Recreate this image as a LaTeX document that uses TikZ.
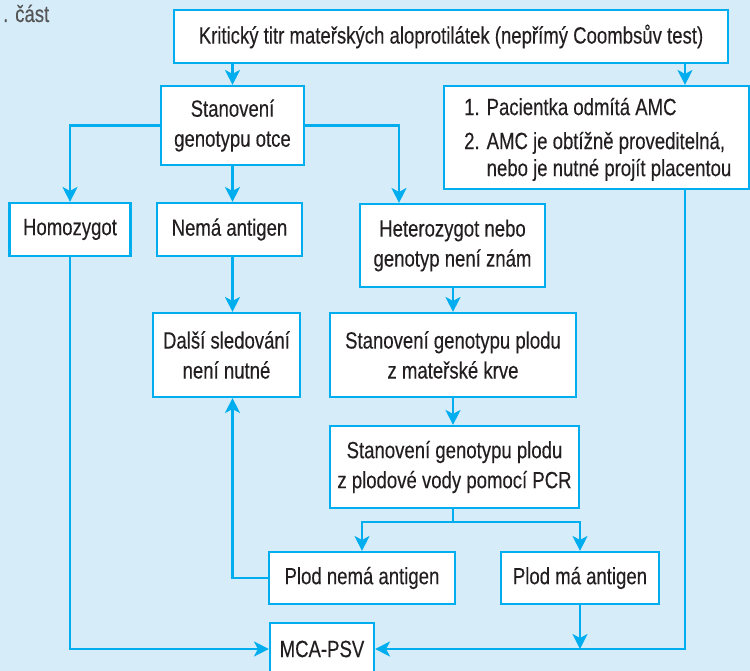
\documentclass[tikz,border=0pt]{standalone}
\usepackage{fontspec}
\setmainfont{Liberation Sans}[FakeStretch=0.79,FakeBold=0.25]
\usetikzlibrary{arrows.meta}
\definecolor{bg}{RGB}{214,236,249}
\definecolor{cy}{RGB}{0,174,239}
\definecolor{tx}{RGB}{35,31,32}
\definecolor{gr}{RGB}{85,85,85}
\begin{document}
\begin{tikzpicture}[x=1pt,y=-1pt,
  txt/.style={font=\fontsize{23.5}{30}\selectfont, text=tx},
  box/.style={txt, draw=cy, line width=2.1pt, fill=white, align=center, inner sep=0pt},
  conn/.style={draw=cy, line width=2.1pt},
  arr/.style={conn, -{Stealth[length=15pt,width=15pt,inset=4pt]}}]
\fill[bg] (0,0) rectangle (750,671);
\clip (0,0) rectangle (750,671);
\node[txt, text=gr, anchor=base west, inner sep=0pt] (part) at (3,22) {. část};
\node[box, minimum width=554pt, minimum height=53pt] (top) at (451,36.5) {Kritický titr mateřských aloprotilátek (nepřímý Coombsův test)};
\node[box, minimum width=143pt, minimum height=79pt] (otce) at (232.5,125.5) {Stanovení\\genotypu otce};
\node[box, minimum width=305pt, minimum height=103pt] (amc) at (596.5,137.5) {};
\node[txt, anchor=north west, inner sep=0pt, font=\fontsize{23.5}{27}\selectfont] (amctext) at (464,96) {\begin{tabular}{@{}l@{\hspace{7pt}}l@{}}1. & Pacientka odmítá AMC\\[7pt] 2. & AMC je obtížně proveditelná,\\ & nebo je nutné projít placentou\end{tabular}};
\node[box, minimum width=121pt, minimum height=53pt] (homo) at (70,229.5) {Homozygot};
\node[box, minimum width=145pt, minimum height=53pt] (nema) at (229.5,229.5) {Nemá antigen};
\node[box, minimum width=185pt, minimum height=83pt] (hetero) at (452.5,245.5) {Heterozygot nebo\\genotyp není znám};
\node[box, minimum width=147pt, minimum height=84pt] (dalsi) at (226.5,355) {Další sledování\\není nutné};
\node[box, minimum width=246pt, minimum height=84pt] (krev) at (453,355) {Stanovení genotypu plodu\\z mateřské krve};
\node[box, minimum width=249pt, minimum height=82pt] (pcr) at (454.5,467) {Stanovení genotypu plodu\\z plodové vody pomocí PCR};
\node[box, minimum width=186pt, minimum height=52pt] (pne) at (362,578) {Plod nemá antigen};
\node[box, minimum width=158pt, minimum height=52pt] (pma) at (580,578) {Plod má antigen};
\node[box, minimum width=104pt, minimum height=52pt] (mca) at (322,649) {MCA-PSV};
\coordinate (xa) at (685,0);
\coordinate (hx) at (399,0);
\coordinate (ys) at (0,522);
\draw[arr] (otce.north |- top.south) -- (otce.north);
\draw[arr] (xa |- top.south) -- (xa |- amc.north);
\draw[arr] (otce.west) -| (homo.north);
\draw[arr] (otce.south) -- (otce.south |- nema.north);
\draw[arr] (otce.east) -| (hx |- hetero.north);
\draw[arr] (otce.south |- nema.south) -- (otce.south |- dalsi.north);
\draw[arr] (krev.north |- hetero.south) -- (krev.north);
\draw[arr] (krev.south) -- (krev.south |- pcr.north);
\draw[conn] (krev.south |- pcr.south) -- (krev.south |- ys) coordinate (sp);
\draw[arr] (sp) -| (pne.north);
\draw[arr] (sp) -| (pma.north);
\draw[arr] (pne.west) -| (otce.south |- dalsi.south);
\draw[arr] (homo.south) |- (mca.west);
\draw[arr] (xa |- amc.south) |- (mca.east);
\draw[arr] (pma.south) -- (pma.south |- mca.east);
\end{tikzpicture}
\end{document}
